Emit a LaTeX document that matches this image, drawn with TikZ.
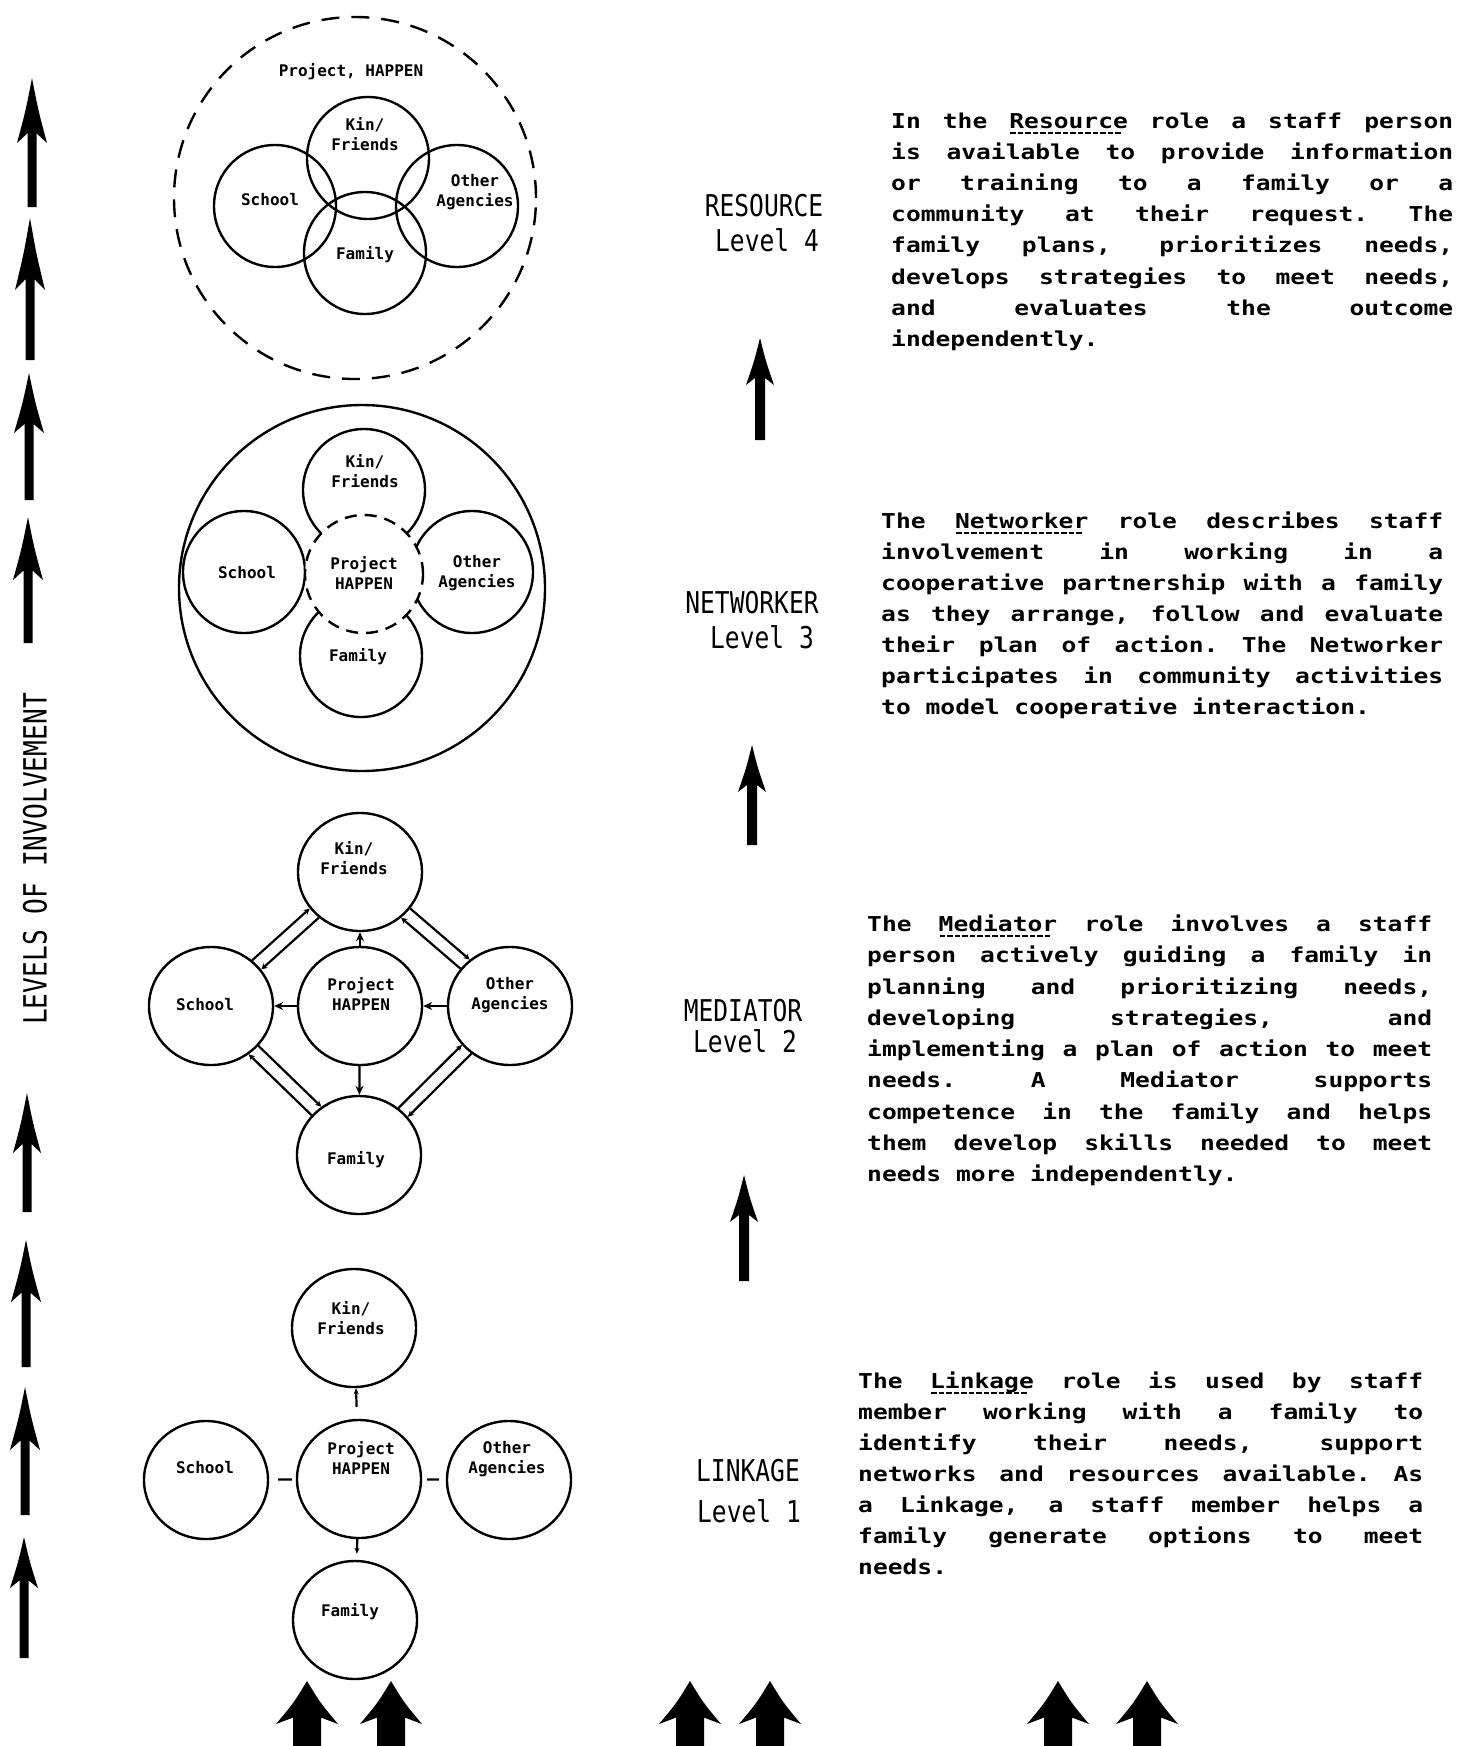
\documentclass[tikz,border=0pt]{standalone}
\usepackage{fontspec}
\usetikzlibrary{arrows.meta,shapes.geometric}
\newfontfamily\parafont{DejaVu Sans Mono}[FakeStretch=1.2]
\newfontfamily\labfont{DejaVu Sans Mono}[FakeStretch=0.82]
\newfontfamily\circfont{DejaVu Sans Mono}
\newcommand\myul[1]{\setbox0\hbox{#1}\rlap{\raisebox{-5.5pt}{\hbox to \wd0{\leaders\hbox to 7.5pt{\hss\vrule width 5.5pt height 1.8pt depth 0pt\hss}\hfill}}}\box0\relax}
\newcommand\jl[2]{\hbox to #1pt{\spaceskip=15pt plus 1fil\relax\xspaceskip=15pt plus 1fil\relax #2}}
% x, tip y, barb y, bottom y, head half width, shaft half width
\newcommand\fatarrow[6]{%
  \fill ({#1},{#2}) .. controls ({#1+0.42*#5},{#2+0.5*(#3-#2)}) .. ({#1+#5},{#3})
    -- ({#1+#6},{#3-0.15*(#3-#2)}) -- ({#1+#6},{#4}) -- ({#1-#6},{#4})
    -- ({#1-#6},{#3-0.15*(#3-#2)}) -- ({#1-#5},{#3})
    .. controls ({#1-0.42*#5},{#2+0.5*(#3-#2)}) .. cycle;}
\begin{document}
\begin{tikzpicture}[x=1pt,y=-1pt,
  vc/.style={circle,draw,line width=2.4pt,minimum size=122pt,inner sep=0pt},
  ov/.style={ellipse,draw,line width=2.4pt,minimum width=124pt,minimum height=118pt,inner sep=0pt},
  ctext/.style={align=center,inner sep=0pt,font=\circfont\bfseries\fontsize{16}{20}\selectfont},
  para/.style={anchor=base west,inner sep=0pt,font=\parafont\bfseries\fontsize{20.5}{31}\selectfont},
  lab/.style={anchor=base,inner sep=0pt,font=\labfont\fontsize{30}{34}\selectfont},
  conn/.style={line width=2.2pt},
  tipc/.style={-{Stealth[length=9pt,width=8pt]}},
  tips/.style={-{Stealth[length=6pt,width=6pt]}}
]
\useasboundingbox[fill=white] (0,0) rectangle (1460,1746);

% ---------- left column arrows ----------
\fatarrow{32}{78}{143}{207}{15}{4.5}
\fatarrow{30}{218}{290}{360}{15}{4.5}
\fatarrow{29}{373}{433}{500}{15}{4.5}
\fatarrow{28}{517}{580}{643}{15}{4.5}
\fatarrow{27}{1093}{1153}{1212}{14}{4.5}
\fatarrow{26}{1240}{1302}{1367}{15}{4.5}
\fatarrow{25}{1387}{1450}{1515}{15}{4.5}
\fatarrow{24}{1537}{1588}{1658}{14}{4.5}
\node[inner sep=0pt,rotate=90,font=\labfont\fontsize{32}{32}\selectfont] (lvl) at (35,859) {LEVELS OF INVOLVEMENT};

% ---------- middle arrows ----------
\fatarrow{760}{338}{385}{440}{14}{5}
\fatarrow{752}{745}{792}{845}{14}{5}
\fatarrow{744}{1175}{1222}{1281}{14}{5}

% ---------- bottom arrows ----------
\fatarrow{307}{1681}{1724}{1746}{31}{14}
\fatarrow{391}{1681}{1724}{1746}{31}{14}
\fatarrow{690}{1681}{1724}{1746}{31}{14}
\fatarrow{770}{1681}{1724}{1746}{31}{14}
\fatarrow{1058}{1681}{1724}{1746}{31}{14}
\fatarrow{1147}{1681}{1724}{1746}{31}{14}

% ---------- Level 4 : Resource ----------
\node[circle,draw,line width=2.4pt,dash pattern=on 18pt off 12pt,minimum size=362pt] (p4) at (355,198) {};
\node[vc] (k4) at (368,158) {};
\node[vc] (s4) at (275,206) {};
\node[vc] (o4) at (457,206) {};
\node[vc] (f4) at (365,253) {};
\node[ctext] (tp4) at (351,72) {Project, HAPPEN};
\node[ctext] (tk4) at (365,134) {Kin/\\Friends};
\node[ctext] (ts4) at (270,200) {School};
\node[ctext] (to4) at (475,192) {Other\\Agencies};
\node[ctext] (tf4) at (365,255) {Family};

% ---------- Level 3 : Networker ----------
\node[circle,draw,line width=2.4pt,minimum size=366pt] (n3) at (362,588) {};
\node[vc] (k3) at (364,490) {};
\node[vc] (s3) at (244,572) {};
\node[vc] (o3) at (472,572) {};
\node[vc] (f3) at (361,656) {};
\node[circle,draw,fill=white,line width=2.4pt,dash pattern=on 12pt off 8pt,minimum size=118pt] (c3) at (364,574) {};
\node[ctext] (tk3) at (365,471) {Kin/\\Friends};
\node[ctext] (tc3) at (364,573) {Project\\HAPPEN};
\node[ctext] (ts3) at (247,573) {School};
\node[ctext] (to3) at (477,573) {Other\\Agencies};
\node[ctext] (tf3) at (358,657) {Family};

% ---------- Level 2 : Mediator ----------
\node[ov] (k2) at (360,872) {};
\node[ov] (s2) at (211,1006) {};
\node[ov] (c2) at (360,1006) {};
\node[ov] (o2) at (510,1006) {};
\node[ov] (f2) at (359,1155) {};
\node[ctext] (tk2) at (354,858) {Kin/\\Friends};
\node[ctext] (tc2) at (361,994) {Project\\HAPPEN};
\node[ctext] (ts2) at (205,1005) {School};
\node[ctext] (to2) at (510,995) {Other\\Agencies};
\node[ctext] (tf2) at (356,1160) {Family};
\draw[conn,tipc] (c2) -- (k2);
\draw[conn,tipc] (c2) -- (s2);
\draw[conn,tipc] (o2) -- (c2);
\draw[conn,tipc] (c2) -- (f2);
\draw[conn,tips] (s2.48.5) -- (k2.216.3);
\draw[conn,tips] (k2.228.5) -- (s2.36.3);
\draw[conn,tips] (k2.-36.1) -- (o2.131.7);
\draw[conn,tips] (o2.143.9) -- (k2.-48.3);
\draw[conn,tips] (o2.-129.3) -- (f2.38.5);
\draw[conn,tips] (f2.50.7) -- (o2.-141.5);
\draw[conn,tips] (f2.140.9) -- (s2.308.7);
\draw[conn,tips] (s2.320.9) -- (f2.128.7);

% ---------- Level 1 : Linkage ----------
\node[ov] (k1) at (354,1328) {};
\node[ov] (s1) at (206,1480) {};
\node[ov] (c1) at (359,1479) {};
\node[ov] (o1) at (509,1480) {};
\node[ov] (f1) at (355,1620) {};
\node[ctext] (tk1) at (351,1318) {Kin/\\Friends};
\node[ctext] (tc1) at (361,1458) {Project\\HAPPEN};
\node[ctext] (ts1) at (205,1468) {School};
\node[ctext] (to1) at (507,1459) {Other\\Agencies};
\node[ctext] (tf1) at (350,1612) {Family};
\draw[conn,-{Stealth[length=6pt,width=5pt]},shorten <=12pt] (c1) -- (k1);
\draw[conn,shorten <=9pt,shorten >=4pt] (s1) -- (c1);
\draw[conn,shorten <=5pt,shorten >=7pt] (c1) -- (o1);
\draw[conn,-{Stealth[length=6pt,width=5pt]},shorten >=6pt] (c1) -- (f1);

% ---------- level labels ----------
\node[lab] (l4a) at (764,216) {RESOURCE};
\node[lab] (l4b) at (767,251) {Level 4};
\node[lab] (l3a) at (752,613) {NETWORKER};
\node[lab] (l3b) at (762,648) {Level 3};
\node[lab] (l2a) at (743,1021) {MEDIATOR};
\node[lab] (l2b) at (745,1052) {Level 2};
\node[lab] (l1a) at (748,1481) {LINKAGE};
\node[lab] (l1b) at (749,1522) {Level 1};

% ---------- Resource text ----------
\node[para] (r1) at (891,128) {\jl{562}{In the \myul{Resource} role a staff person}};
\node[para] (r2) at (891,159) {\jl{562}{is available to provide information}};
\node[para] (r3) at (891,190) {\jl{562}{or training to a family or a}};
\node[para] (r4) at (891,221) {\jl{562}{community at their request. The}};
\node[para] (r5) at (891,252) {\jl{562}{family plans, prioritizes needs,}};
\node[para] (r6) at (891,284) {\jl{562}{develops strategies to meet needs,}};
\node[para] (r7) at (891,315) {\jl{562}{and evaluates the outcome}};
\node[para] (r8) at (891,346) {independently.};

% ---------- Networker text ----------
\node[para] (w1) at (881,528) {\jl{562}{The \myul{Networker} role describes staff}};
\node[para] (w2) at (881,559) {\jl{562}{involvement in working in a}};
\node[para] (w3) at (881,590) {\jl{562}{cooperative partnership with a family}};
\node[para] (w4) at (881,621) {\jl{562}{as they arrange, follow and evaluate}};
\node[para] (w5) at (881,652) {\jl{562}{their plan of action. The Networker}};
\node[para] (w6) at (881,683) {\jl{562}{participates in community activities}};
\node[para] (w7) at (881,714) {to model cooperative interaction.};

% ---------- Mediator text ----------
\node[para] (m1) at (867,931) {\jl{565}{The \myul{Mediator} role involves a staff}};
\node[para] (m2) at (867,962) {\jl{565}{person actively guiding a family in}};
\node[para] (m3) at (867,994) {\jl{565}{planning and prioritizing needs,}};
\node[para] (m4) at (867,1025) {\jl{565}{developing strategies, and}};
\node[para] (m5) at (867,1056) {\jl{565}{implementing a plan of action to meet}};
\node[para] (m6) at (867,1087) {\jl{565}{needs. A Mediator supports}};
\node[para] (m7) at (867,1119) {\jl{565}{competence in the family and helps}};
\node[para] (m8) at (867,1150) {\jl{565}{them develop skills needed to meet}};
\node[para] (m9) at (867,1181) {needs more independently.};

% ---------- Linkage text ----------
\node[para] (g1) at (858,1388) {\jl{565}{The \myul{Linkage} role is used by staff}};
\node[para] (g2) at (858,1419) {\jl{565}{member working with a family to}};
\node[para] (g3) at (858,1450) {\jl{565}{identify their needs, support}};
\node[para] (g4) at (858,1481) {\jl{565}{networks and resources available. As}};
\node[para] (g5) at (858,1512) {\jl{565}{a Linkage, a staff member helps a}};
\node[para] (g6) at (858,1543) {\jl{565}{family generate options to meet}};
\node[para] (g7) at (858,1574) {needs.};
\end{tikzpicture}
\end{document}
